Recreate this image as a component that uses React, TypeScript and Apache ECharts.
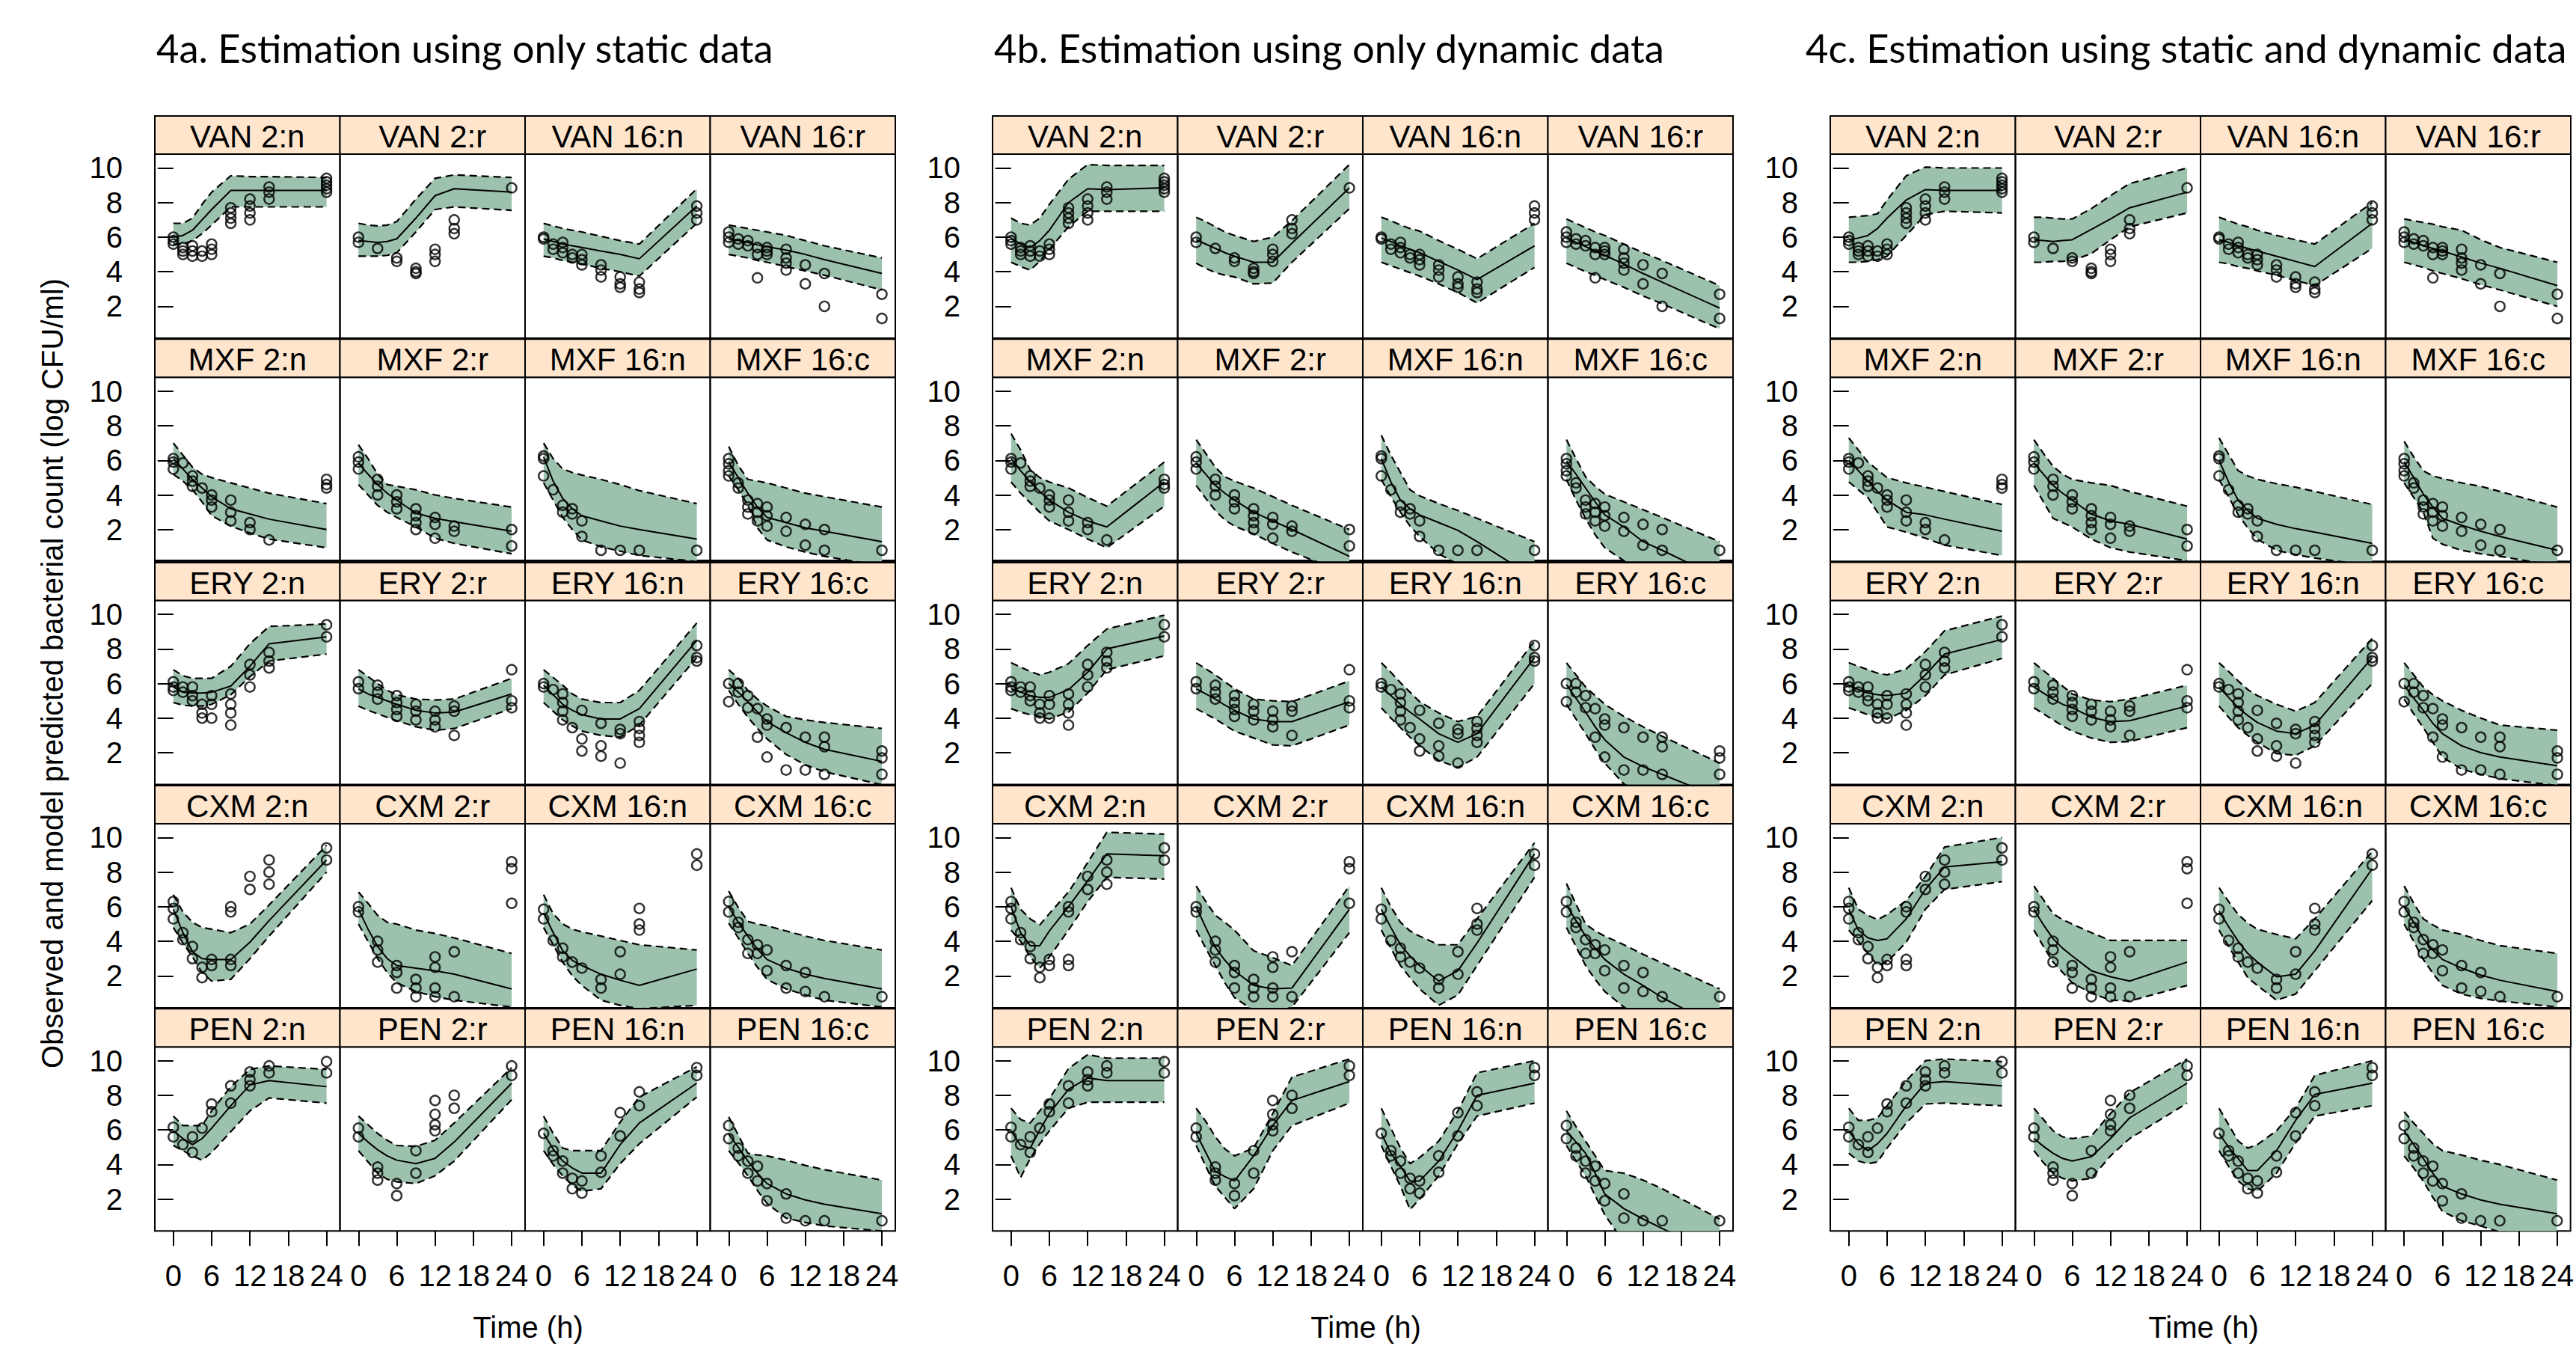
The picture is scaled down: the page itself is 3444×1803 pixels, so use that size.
import React, { useEffect, useRef } from "react";
import * as echarts from "echarts";

// ---------------- data ----------------
const TIMES = [0, 1.5, 3, 4.5, 6, 9, 12, 15, 24];
const X_TICKS = [0, 6, 12, 18, 24];
const Y_TICKS = [2, 4, 6, 8, 10];
const TITLES = [
  "4a. Estimation using only static data",
  "4b. Estimation using only dynamic data",
  "4c. Estimation using static and dynamic data",
];
const PANEL_LABELS = [
  "VAN 2:n", "VAN 2:r", "VAN 16:n", "VAN 16:r",
  "MXF 2:n", "MXF 2:r", "MXF 16:n", "MXF 16:c",
  "ERY 2:n", "ERY 2:r", "ERY 16:n", "ERY 16:c",
  "CXM 2:n", "CXM 2:r", "CXM 16:n", "CXM 16:c",
  "PEN 2:n", "PEN 2:r", "PEN 16:n", "PEN 16:c",
];
const X_TITLE = "Time (h)";
const Y_TITLE = "Observed and model predicted bacterial count (log CFU/ml)";

// observed counts: per panel, per time in TIMES, list of replicate values
const OBS_VAN = [
  [[6.0, 5.8, 5.6], [5.4, 5.2, 5.0], [5.5, 5.2, 4.9], [5.2, 4.9], [5.6, 5.3, 5.0], [7.7, 7.4, 7.1, 6.8], [8.2, 7.8, 7.4, 7.0], [8.9, 8.6, 8.2], [9.4, 9.2, 9.0, 8.8, 8.6]],
  [[6.0, 5.7], [], [5.35], [], [4.8, 4.6], [4.2, 4.0, 3.9], [5.3, 5.0, 4.6], [7.0, 6.5, 6.2], [8.85]],
  [[6.0, 5.9], [5.6, 5.3], [5.7, 5.4, 5.1], [5.0, 4.8], [5.0, 4.7, 4.4], [4.4, 4.1, 3.7], [3.7, 3.3, 3.1], [3.4, 3.0, 2.8], [7.8, 7.4, 7.0]],
  [[6.3, 6.0, 5.7], [5.9, 5.6], [5.8, 5.5], [5.4, 5.0, 3.65], [5.4, 5.2, 5.0], [5.3, 4.8, 4.5, 4.1], [4.4, 3.3], [3.9, 2.0], [2.7, 1.3]],
];
const OBS_MXF = [
  [[6.1, 5.9, 5.5], [5.85], [5.1, 4.8, 4.5], [4.4], [4.0, 3.7, 3.3], [3.7, 3.0, 2.5], [2.4, 2.0], [1.4], [4.9, 4.6, 4.4]],
  [[6.2, 5.9, 5.5], [], [4.9, 4.5, 4.0], [], [4.0, 3.6, 3.2], [3.2, 2.8, 2.4, 2.0], [2.7, 2.3, 1.5], [2.2, 1.9], [2.0, 1.05]],
  [[6.25, 6.1, 5.1], [4.3], [3.4, 3.0], [3.2, 2.9], [2.5, 1.6], [0.8], [0.8], [0.8], [0.8]],
  [[6.1, 5.8, 5.4, 5.1], [4.7, 4.4], [3.7, 3.3, 2.9], [3.5, 3.0, 2.5], [3.3, 2.8, 2.2], [2.7, 1.9], [2.3, 1.1], [2.0, 0.8], [0.8]],
];
const OBS_ERY = [
  [[6.1, 5.8, 5.6], [5.8, 5.5], [5.8, 5.3, 5.0], [4.8, 4.3, 4.0], [5.3, 4.8, 4.0], [5.4, 4.8, 4.3, 3.6], [7.1, 6.5, 5.8], [7.8, 7.3, 6.9], [9.4, 8.7]],
  [[6.1, 5.7], [], [5.9, 5.5, 5.1], [], [5.3, 4.9, 4.5, 4.1], [4.8, 4.4, 3.9], [4.4, 3.9, 3.5], [4.7, 4.4, 3.0], [6.8, 5.0, 4.6]],
  [[6.0, 5.8], [5.65], [5.4, 4.9, 4.4, 3.9], [3.45], [4.45, 2.8, 2.1], [3.7, 2.4, 1.8], [3.35, 3.1, 1.4], [3.8, 3.4, 3.0, 2.6], [8.2, 7.5, 7.3]],
  [[6.0, 4.95], [6.0, 5.5], [5.3, 4.6], [4.55, 2.9], [3.95, 3.6, 1.75], [3.45, 1.0], [2.9, 1.0], [2.9, 2.35, 0.75], [2.1, 1.7, 0.75]],
];
const OBS_CXM = [
  [[6.3, 5.9, 5.3], [4.5, 4.1], [3.7, 3.0], [2.5, 1.9], [2.95, 2.6], [6.0, 5.7, 2.95, 2.6], [7.75, 7.0], [8.7, 8.0, 7.3], [9.4, 8.7]],
  [[6.0, 5.7], [], [4.0, 3.5, 2.8], [], [2.6, 2.2, 1.3], [1.8, 1.3, 0.8], [3.1, 2.5, 1.3, 0.8], [3.4, 0.8], [8.6, 8.2, 6.2]],
  [[5.85, 5.3], [4.05], [3.6, 3.1], [2.8], [2.45], [1.8, 1.3], [3.4, 2.1], [5.9, 5.0, 4.65], [9.05, 8.4]],
  [[6.3, 5.7], [5.1, 4.8], [4.1, 3.3], [3.8, 3.3], [3.5, 2.3], [2.6, 1.3], [2.2, 1.1], [0.8], [0.8]],
];
const OBS_PEN = [
  [[6.15, 5.6], [5.15], [5.6, 4.7], [6.1], [7.5, 7.05], [8.55, 7.55], [9.35, 8.9, 8.55], [9.7, 9.3], [9.95, 9.3]],
  [[6.1, 5.6], [], [3.85, 3.5, 3.1], [], [2.9, 2.2], [4.8, 3.5], [7.7, 6.9, 6.3, 5.95], [8.0, 7.25], [9.7, 9.15]],
  [[5.8], [4.8, 4.5], [4.2, 3.5], [3.2, 2.6], [3.05, 2.35], [4.5, 3.55], [7.0, 5.65], [8.2, 7.4], [9.6, 9.15]],
  [[6.25, 5.5], [4.95, 4.5], [4.2, 3.5], [3.9, 3.05], [2.9, 1.9], [2.3, 0.9], [0.75], [0.75], [0.75]],
];

// model prediction bands (one row per panel, values at TIMES)
const UPPER_A = [
  [6.8, 6.8, 7.1, 7.9, 8.6, 9.55, 9.5, 9.5, 9.45],
  [6.8, 6.7, 6.65, 6.7, 6.9, 8.2, 9.4, 9.6, 9.45],
  [6.8, 6.65, 6.5, 6.4, 6.3, 6.05, 5.8, 5.6, 8.8],
  [6.7, 6.6, 6.5, 6.4, 6.3, 6.1, 5.8, 5.5, 4.8],
  [7.0, 6.3, 5.6, 5.2, 5.0, 4.7, 4.4, 4.1, 3.5],
  [6.9, 6.1, 5.2, 4.6, 4.5, 4.3, 4.0, 3.8, 3.3],
  [7.0, 6.1, 5.5, 5.3, 5.15, 4.9, 4.6, 4.25, 3.5],
  [6.8, 5.7, 4.9, 4.8, 4.7, 4.4, 4.1, 3.9, 3.3],
  [6.8, 6.45, 6.3, 6.3, 6.3, 7.0, 8.3, 9.3, 9.45],
  [6.8, 6.4, 6.0, 5.6, 5.35, 5.1, 5.05, 5.1, 6.3],
  [6.8, 6.35, 5.9, 5.4, 5.1, 4.9, 4.9, 5.6, 9.5],
  [6.8, 6.3, 5.6, 5.1, 4.7, 4.1, 3.9, 3.75, 3.4],
  [6.7, 5.7, 5.1, 4.8, 4.7, 4.5, 5.0, 6.1, 9.55],
  [6.85, 6.2, 5.5, 5.1, 5.0, 4.65, 4.45, 4.2, 3.3],
  [6.7, 5.6, 5.0, 4.7, 4.55, 4.3, 4.05, 3.8, 3.5],
  [6.9, 5.95, 5.15, 5.0, 4.9, 4.6, 4.3, 4.05, 3.5],
  [6.8, 6.25, 6.25, 6.25, 7.1, 8.5, 9.5, 9.7, 9.5],
  [6.8, 6.3, 5.8, 5.4, 5.1, 5.05, 5.4, 6.4, 9.6],
  [6.8, 5.8, 4.95, 4.8, 4.8, 4.8, 6.45, 7.9, 9.65],
  [6.75, 5.7, 4.65, 4.55, 4.5, 4.25, 3.95, 3.7, 3.1],
];
const MEDIAN_A = [
  [6.0, 6.1, 6.4, 7.0, 7.6, 8.7, 8.7, 8.7, 8.7],
  [5.8, 5.75, 5.7, 5.75, 5.9, 7.1, 8.4, 8.8, 8.6],
  [5.9, 5.75, 5.6, 5.5, 5.4, 5.2, 5.0, 4.75, 7.8],
  [5.9, 5.8, 5.7, 5.55, 5.45, 5.25, 5.0, 4.7, 3.9],
  [6.1, 5.5, 4.9, 4.4, 3.9, 3.2, 2.9, 2.6, 2.0],
  [5.85, 5.2, 4.6, 4.1, 3.7, 2.95, 2.65, 2.45, 1.9],
  [6.2, 4.8, 3.8, 3.2, 2.8, 2.5, 2.2, 2.0, 1.45],
  [5.9, 5.0, 4.1, 3.3, 2.7, 2.4, 2.1, 1.9, 1.3],
  [5.8, 5.5, 5.45, 5.45, 5.5, 5.85, 7.0, 8.3, 8.7],
  [5.7, 5.4, 5.2, 5.0, 4.8, 4.45, 4.3, 4.35, 5.4],
  [5.9, 5.35, 4.8, 4.45, 4.2, 3.95, 3.95, 4.55, 8.5],
  [6.0, 5.5, 4.95, 4.35, 3.8, 3.15, 2.6, 2.2, 1.5],
  [5.85, 4.5, 3.4, 3.0, 2.95, 2.95, 3.95, 5.2, 8.7],
  [5.85, 4.7, 3.7, 3.0, 2.6, 2.45, 2.3, 2.1, 1.25],
  [5.65, 4.5, 3.45, 2.9, 2.6, 2.1, 1.75, 1.45, 2.4],
  [6.0, 5.1, 4.3, 3.55, 2.95, 2.45, 2.1, 1.85, 1.25],
  [5.95, 5.5, 5.15, 5.5, 6.1, 7.4, 8.6, 8.85, 8.5],
  [5.8, 5.3, 4.85, 4.5, 4.25, 4.05, 4.35, 5.3, 8.7],
  [5.8, 4.9, 4.2, 3.8, 3.5, 3.5, 5.15, 6.4, 8.7],
  [5.75, 5.0, 4.2, 3.5, 2.9, 2.3, 1.95, 1.7, 1.15],
];
const LOWER_A = [
  [5.6, 5.6, 5.8, 6.2, 6.7, 7.75, 7.75, 7.75, 7.75],
  [4.9, 4.9, 4.9, 4.95, 5.1, 6.3, 7.6, 7.75, 7.55],
  [4.9, 4.8, 4.65, 4.55, 4.45, 4.2, 4.0, 3.75, 6.8],
  [5.0, 4.9, 4.8, 4.65, 4.55, 4.3, 4.05, 3.8, 2.95],
  [5.2, 4.8, 4.3, 3.6, 2.8, 2.2, 1.8, 1.45, 0.95],
  [4.6, 4.0, 3.4, 3.0, 2.7, 2.15, 1.5, 1.2, 0.6],
  [4.7, 3.7, 2.7, 2.0, 1.4, 1.0, 0.75, 0.5, 0.15],
  [5.1, 4.3, 3.4, 2.1, 1.4, 1.0, 0.7, 0.45, -0.1],
  [4.9, 4.75, 4.7, 4.7, 4.8, 5.35, 6.4, 7.3, 7.7],
  [4.7, 4.45, 4.25, 4.05, 3.85, 3.5, 3.3, 3.4, 4.55],
  [4.9, 4.4, 3.9, 3.55, 3.25, 3.0, 2.9, 3.6, 7.5],
  [5.6, 4.8, 4.05, 3.4, 2.8, 1.9, 1.3, 0.9, 0.15],
  [4.8, 3.9, 3.1, 2.2, 1.7, 1.8, 3.0, 4.3, 8.0],
  [5.0, 4.0, 3.0, 2.2, 1.6, 1.1, 0.8, 0.6, 0.2],
  [4.8, 3.8, 2.8, 2.0, 1.45, 0.6, 0.3, 0.1, 0.3],
  [5.05, 4.2, 3.3, 2.5, 1.8, 1.25, 0.9, 0.6, 0.2],
  [5.1, 4.8, 4.5, 4.25, 4.7, 5.9, 7.1, 7.85, 7.55],
  [4.8, 4.15, 3.5, 3.15, 3.0, 2.9, 3.35, 4.2, 7.75],
  [4.8, 4.0, 3.35, 2.8, 2.45, 2.6, 4.05, 5.2, 7.9],
  [4.8, 4.1, 3.35, 2.5, 1.75, 0.9, 0.65, 0.45, 0.15],
];

const UPPER_B = [
  [7.1, 6.8, 6.7, 7.1, 7.9, 9.35, 10.2, 10.15, 10.15],
  [7.15, 6.9, 6.6, 6.3, 6.1, 5.75, 6.0, 6.95, 10.2],
  [7.15, 6.95, 6.7, 6.5, 6.35, 5.8, 5.3, 4.75, 6.8],
  [7.05, 6.8, 6.55, 6.3, 6.1, 5.6, 5.1, 4.65, 3.2],
  [7.55, 6.6, 5.45, 5.0, 4.75, 4.4, 3.85, 3.35, 5.9],
  [7.2, 6.4, 5.6, 5.05, 4.8, 4.4, 3.9, 3.4, 2.0],
  [7.45, 6.3, 5.3, 4.3, 3.95, 3.5, 3.1, 2.65, 1.3],
  [7.2, 6.1, 5.05, 4.5, 4.05, 3.6, 3.15, 2.7, 1.3],
  [7.2, 6.95, 6.7, 6.5, 6.65, 7.15, 8.2, 9.15, 9.95],
  [7.2, 6.85, 6.5, 6.1, 5.7, 5.1, 5.0, 4.95, 6.15],
  [7.2, 6.65, 6.05, 5.5, 4.95, 4.3, 3.8, 4.1, 8.45],
  [7.2, 6.5, 5.8, 5.3, 4.8, 4.1, 3.5, 2.95, 1.4],
  [7.1, 5.85, 5.3, 4.95, 5.6, 6.85, 8.55, 10.3, 10.2],
  [7.2, 6.3, 5.5, 5.1, 4.65, 3.45, 3.05, 2.6, 7.2],
  [7.1, 6.0, 5.1, 4.6, 4.3, 3.8, 3.8, 5.3, 9.7],
  [7.35, 6.15, 5.0, 4.6, 4.3, 3.8, 3.25, 2.75, 1.25],
  [7.25, 6.6, 6.4, 7.1, 7.8, 9.55, 10.35, 10.15, 10.15],
  [7.25, 6.5, 5.6, 4.9, 4.5, 4.95, 6.95, 9.05, 10.1],
  [7.25, 6.1, 4.95, 4.05, 4.4, 5.35, 7.1, 9.3, 10.0],
  [7.1, 6.2, 5.35, 4.5, 3.65, 3.5, 3.1, 2.6, 0.85],
];
const MEDIAN_B = [
  [5.95, 5.6, 5.4, 5.8, 6.4, 8.0, 8.8, 8.75, 8.85],
  [5.85, 5.6, 5.35, 5.1, 4.9, 4.55, 4.55, 5.65, 8.85],
  [5.95, 5.75, 5.5, 5.3, 5.1, 4.6, 4.1, 3.55, 5.5],
  [5.95, 5.7, 5.45, 5.2, 4.95, 4.45, 3.9, 3.4, 1.9],
  [6.1, 5.4, 4.75, 4.2, 3.7, 3.0, 2.5, 2.15, 4.75],
  [5.85, 5.2, 4.55, 4.1, 3.7, 3.0, 2.5, 2.0, 0.45],
  [6.1, 4.75, 3.7, 3.2, 2.85, 2.4, 1.95, 1.3, -0.8],
  [5.95, 5.2, 4.4, 3.6, 2.85, 2.15, 1.3, 0.8, -0.8],
  [5.7, 5.5, 5.3, 5.2, 5.2, 5.65, 6.65, 8.0, 8.75],
  [5.7, 5.4, 5.1, 4.75, 4.45, 3.95, 3.8, 3.8, 4.95],
  [5.8, 5.3, 4.8, 4.35, 3.95, 3.1, 2.6, 3.1, 7.5],
  [5.95, 5.15, 4.35, 3.5, 2.75, 1.75, 1.2, 0.75, -0.6],
  [6.0, 4.5, 3.75, 3.75, 4.6, 6.0, 7.5, 9.05, 8.95],
  [6.0, 4.8, 3.65, 2.9, 2.3, 1.45, 1.25, 1.3, 5.85],
  [5.85, 4.8, 3.8, 3.15, 2.6, 1.7, 2.3, 3.9, 9.05],
  [6.1, 5.2, 4.3, 3.6, 2.95, 2.1, 1.45, 0.75, -1.0],
  [5.95, 5.1, 4.95, 6.0, 6.95, 8.35, 9.0, 8.85, 8.85],
  [5.8, 4.7, 3.6, 3.3, 3.05, 4.5, 6.25, 7.7, 8.8],
  [5.8, 4.65, 3.9, 3.05, 3.05, 4.2, 5.95, 8.0, 8.7],
  [5.95, 5.3, 4.65, 3.5, 2.3, 1.45, 0.85, 0.3, -1.3],
];
const LOWER_B = [
  [4.55, 4.3, 4.1, 4.6, 5.3, 6.6, 7.5, 7.5, 7.5],
  [4.5, 4.2, 3.95, 3.8, 3.7, 3.3, 3.35, 4.55, 7.65],
  [4.55, 4.35, 4.15, 3.95, 3.75, 3.3, 2.8, 2.2, 4.25],
  [4.5, 4.25, 4.0, 3.8, 3.55, 3.1, 2.6, 2.15, 0.7],
  [4.75, 4.1, 3.55, 3.0, 2.5, 2.0, 1.45, 0.95, 3.35],
  [4.55, 3.8, 3.1, 2.55, 2.2, 1.75, 1.2, 0.7, -0.6],
  [4.9, 3.9, 3.0, 2.2, 1.6, 0.6, 0.0, -0.5, -1.5],
  [4.9, 3.7, 2.65, 1.7, 0.95, 0.2, -0.5, -1.0, -2.5],
  [4.55, 4.35, 4.2, 4.1, 3.95, 4.35, 5.45, 6.8, 7.6],
  [4.55, 4.25, 3.95, 3.6, 3.25, 2.85, 2.45, 2.4, 3.6],
  [4.6, 4.0, 3.45, 2.9, 2.4, 1.55, 1.15, 1.75, 6.0],
  [4.8, 3.95, 3.1, 2.2, 1.4, 0.2, -0.5, -1.0, -2.5],
  [4.65, 4.0, 3.1, 2.45, 3.1, 4.65, 6.3, 7.7, 7.6],
  [4.65, 3.6, 2.6, 1.6, 0.75, 0.0, -0.2, 0.2, 4.5],
  [4.65, 3.6, 2.6, 1.9, 1.25, 0.3, 0.9, 2.6, 7.7],
  [4.8, 3.7, 2.6, 1.8, 1.1, 0.2, -0.5, -1.0, -2.5],
  [4.5, 3.25, 4.35, 5.2, 5.95, 7.25, 7.6, 7.6, 7.6],
  [5.1, 3.9, 2.75, 2.1, 1.45, 2.6, 4.8, 6.25, 7.55],
  [5.1, 3.9, 2.75, 1.4, 2.0, 3.35, 5.2, 6.8, 7.55],
  [5.1, 4.2, 3.35, 2.2, 1.1, -0.5, -1.0, -1.5, -3.0],
];

const UPPER_C = [
  [7.15, 7.2, 7.25, 7.35, 8.15, 9.55, 10.05, 10.0, 10.0],
  [7.15, 7.15, 7.1, 7.05, 7.05, 7.65, 8.4, 9.1, 10.0],
  [7.15, 6.95, 6.75, 6.6, 6.4, 6.1, 5.85, 5.6, 8.0],
  [7.05, 6.95, 6.85, 6.75, 6.6, 6.4, 5.85, 5.4, 4.55],
  [7.3, 6.6, 5.9, 5.45, 5.0, 4.7, 4.45, 4.2, 3.45],
  [7.2, 6.4, 5.65, 5.2, 4.9, 4.7, 4.55, 4.2, 3.35],
  [7.3, 6.35, 5.4, 5.1, 4.9, 4.65, 4.45, 4.2, 3.45],
  [7.1, 6.2, 5.4, 5.1, 4.95, 4.7, 4.5, 4.2, 3.3],
  [7.2, 7.0, 6.8, 6.6, 6.5, 6.85, 7.85, 9.05, 9.9],
  [7.2, 6.75, 6.3, 5.85, 5.4, 5.05, 4.95, 5.1, 5.9],
  [7.2, 6.7, 6.15, 5.65, 5.3, 4.8, 4.4, 4.9, 8.6],
  [7.2, 6.5, 5.8, 5.35, 5.0, 4.45, 4.0, 3.6, 3.3],
  [7.1, 5.85, 5.5, 5.25, 5.55, 6.35, 7.75, 9.45, 10.0],
  [7.2, 6.4, 5.6, 5.25, 5.0, 4.5, 4.05, 4.05, 4.05],
  [7.1, 6.3, 5.55, 5.05, 4.7, 4.4, 4.15, 5.3, 9.2],
  [7.2, 6.2, 5.3, 4.95, 4.65, 4.4, 4.05, 3.75, 3.3],
  [7.25, 6.55, 6.55, 6.7, 7.4, 8.85, 10.0, 10.1, 9.95],
  [7.25, 6.6, 5.95, 5.6, 5.5, 5.65, 6.95, 8.15, 10.1],
  [7.25, 6.3, 5.35, 4.95, 5.15, 5.95, 7.25, 9.15, 10.0],
  [7.05, 6.4, 5.8, 5.2, 4.8, 4.55, 4.25, 4.0, 3.1],
];
const MEDIAN_C = [
  [5.85, 5.95, 6.1, 6.5, 7.1, 8.15, 8.75, 8.7, 8.7],
  [5.85, 5.8, 5.75, 5.8, 5.85, 6.45, 7.05, 7.7, 8.6],
  [5.85, 5.7, 5.5, 5.35, 5.2, 4.9, 4.6, 4.3, 6.8],
  [5.85, 5.7, 5.5, 5.35, 5.2, 4.85, 4.5, 4.2, 3.2],
  [6.0, 5.4, 4.8, 4.2, 3.7, 3.0, 2.85, 2.6, 1.9],
  [5.85, 5.2, 4.55, 4.1, 3.7, 2.9, 2.5, 2.3, 1.45],
  [6.0, 4.75, 3.7, 3.1, 2.65, 2.3, 2.05, 1.85, 1.2],
  [5.9, 5.0, 4.05, 3.3, 2.65, 2.25, 1.9, 1.6, 0.8],
  [5.9, 5.65, 5.45, 5.35, 5.3, 5.45, 6.5, 7.7, 8.55],
  [5.8, 5.45, 5.1, 4.8, 4.6, 4.05, 3.8, 3.85, 4.7],
  [5.8, 5.2, 4.6, 4.15, 3.75, 3.25, 3.1, 3.6, 7.5],
  [5.9, 5.15, 4.45, 3.7, 3.1, 2.4, 2.0, 1.75, 1.25],
  [5.85, 4.65, 4.2, 4.05, 4.15, 5.3, 7.0, 8.3, 8.6],
  [5.85, 4.95, 4.15, 3.6, 3.15, 2.3, 1.95, 1.7, 2.8],
  [5.75, 4.85, 4.0, 3.3, 2.8, 1.95, 2.1, 3.45, 8.2],
  [6.0, 5.1, 4.15, 3.5, 2.95, 2.45, 2.05, 1.75, 1.1],
  [5.95, 5.2, 4.8, 5.2, 5.8, 7.4, 8.7, 8.8, 8.55],
  [5.5, 5.05, 4.65, 4.35, 4.2, 4.45, 5.5, 6.7, 8.7],
  [5.8, 5.0, 4.35, 3.65, 3.65, 4.8, 6.55, 8.05, 8.7],
  [5.95, 5.15, 4.35, 3.5, 2.75, 2.3, 1.95, 1.7, 1.15],
];
const LOWER_C = [
  [4.55, 4.55, 4.6, 4.7, 4.9, 6.1, 7.3, 7.5, 7.4],
  [4.55, 4.55, 4.6, 4.6, 4.65, 5.05, 5.85, 6.6, 7.4],
  [4.55, 4.45, 4.3, 4.2, 4.05, 3.8, 3.5, 3.2, 5.35],
  [4.55, 4.4, 4.25, 4.05, 3.9, 3.6, 3.25, 2.95, 2.0],
  [4.75, 4.3, 3.85, 3.0, 2.15, 1.85, 1.5, 1.1, 0.5],
  [4.55, 3.6, 2.65, 2.4, 2.15, 1.45, 0.95, 0.7, 0.2],
  [4.9, 3.9, 2.85, 2.1, 1.45, 0.8, 0.55, 0.35, -0.1],
  [4.7, 3.85, 3.0, 1.5, 1.15, 0.8, 0.6, 0.45, -0.1],
  [4.6, 4.4, 4.2, 4.05, 3.95, 4.45, 5.3, 6.5, 7.45],
  [4.6, 4.25, 3.9, 3.55, 3.25, 2.85, 2.6, 2.65, 3.45],
  [4.7, 4.05, 3.45, 3.0, 2.6, 1.95, 1.85, 2.4, 6.0],
  [5.1, 4.25, 3.45, 2.6, 1.75, 1.05, 0.75, 0.5, 0.1],
  [4.65, 4.0, 3.3, 2.6, 2.8, 3.95, 5.85, 7.0, 7.45],
  [4.65, 3.7, 2.8, 2.2, 1.6, 1.0, 0.6, 0.55, 1.45],
  [4.65, 3.7, 2.8, 1.9, 1.45, 0.6, 0.95, 2.3, 6.35],
  [5.0, 4.0, 2.95, 2.15, 1.45, 0.95, 0.7, 0.55, 0.2],
  [4.65, 4.2, 4.05, 4.15, 4.95, 6.4, 7.5, 7.55, 7.4],
  [4.8, 4.1, 3.5, 3.2, 3.05, 3.2, 4.5, 5.5, 7.55],
  [4.8, 3.9, 3.05, 2.6, 2.45, 3.5, 5.25, 6.8, 7.4],
  [4.5, 3.8, 3.05, 2.1, 1.3, 0.75, 0.45, 0.1, -0.5],
];

// ---------------- layout / style ----------------
const W = 3444;
const H = 1803;
const GROUP_LEFT = [207, 1327, 2447];
const TITLE_X = [209, 1329, 2414];
const COL_W = 247.5;
const ROW_TOP0 = 155;
const ROW_PITCH = 298.3;
const STRIP_H = 51;
const PLOT_H = 246;
const X_MIN = -2.9;
const X_MAX = 26.1;
const Y_MIN = 0.16;
const Y_MAX = 10.8;
const BAND_FILL = "#9cc2ad";
const STRIP_FILL = "#ffe5cc";
const FONT = "'Liberation Sans', Arial, Helvetica, sans-serif";
const TITLE_FONT = "Lato, 'Open Sans', sans-serif";

const OBSERVED = [...OBS_VAN, ...OBS_MXF, ...OBS_ERY, ...OBS_CXM, ...OBS_PEN];
const BANDS = [
  { lo: LOWER_A, md: MEDIAN_A, hi: UPPER_A },
  { lo: LOWER_B, md: MEDIAN_B, hi: UPPER_B },
  { lo: LOWER_C, md: MEDIAN_C, hi: UPPER_C },
];

function buildOption() {
  const grid: any[] = [];
  const xAxis: any[] = [];
  const yAxis: any[] = [];
  const series: any[] = [];
  const graphic: any[] = [];

  for (let g = 0; g < 3; g++) {
    for (let p = 0; p < 20; p++) {
      const r = Math.floor(p / 4);
      const c = p % 4;
      const k = g * 20 + p;
      const left = GROUP_LEFT[g] + c * COL_W;
      const stripTop = ROW_TOP0 + r * ROW_PITCH;
      const top = stripTop + STRIP_H;
      grid.push({
        left, top, width: COL_W, height: PLOT_H,
        show: true, borderColor: "#000", borderWidth: 2, backgroundColor: "transparent",
      });
      const bottomRow = r === 4;
      const leftCol = c === 0;
      xAxis.push({
        gridIndex: k, type: "value", min: X_MIN, max: X_MAX,
        axisLine: { show: false },
        splitLine: { show: false },
        axisTick: { show: bottomRow, length: 20, lineStyle: { color: "#000", width: 2 }, customValues: X_TICKS },
        axisLabel: { show: bottomRow, customValues: X_TICKS, margin: 40, fontSize: 40, color: "#000", fontFamily: FONT },
      });
      yAxis.push({
        gridIndex: k, type: "value", min: Y_MIN, max: Y_MAX,
        axisLine: { show: false },
        splitLine: { show: false },
        axisTick: { show: leftCol, length: 21, lineStyle: { color: "#000", width: 2 }, customValues: Y_TICKS },
        axisLabel: { show: leftCol, customValues: Y_TICKS, margin: 43, fontSize: 40, color: "#000", fontFamily: FONT },
      });

      const lo = BANDS[g].lo[p];
      const md = BANDS[g].md[p];
      const hi = BANDS[g].hi[p];
      series.push({
        type: "custom", xAxisIndex: k, yAxisIndex: k, clip: true, silent: true,
        data: [[TIMES[0], lo[0]]],
        renderItem: (_params: any, api: any) => {
          const upperPts = TIMES.map((t, i) => api.coord([t, hi[i]]));
          const lowerPts = TIMES.map((t, i) => api.coord([t, lo[i]])).reverse();
          return {
            type: "polygon",
            shape: { points: upperPts.concat(lowerPts) },
            style: { fill: BAND_FILL, stroke: null },
          };
        },
      });
      const dashed = { color: "#000", width: 2.2, type: [10, 6] };
      series.push({
        type: "line", xAxisIndex: k, yAxisIndex: k, silent: true, symbol: "none",
        data: TIMES.map((t, i) => [t, hi[i]]), lineStyle: dashed,
      });
      series.push({
        type: "line", xAxisIndex: k, yAxisIndex: k, silent: true, symbol: "none",
        data: TIMES.map((t, i) => [t, lo[i]]), lineStyle: dashed,
      });
      series.push({
        type: "line", xAxisIndex: k, yAxisIndex: k, silent: true, symbol: "none",
        data: TIMES.map((t, i) => [t, md[i]]), lineStyle: { color: "#000", width: 2 },
      });
      const pts: number[][] = [];
      OBSERVED[p].forEach((vals, i) => vals.forEach((v) => pts.push([TIMES[i], v])));
      series.push({
        type: "scatter", xAxisIndex: k, yAxisIndex: k, silent: true,
        symbol: "circle", symbolSize: 13,
        itemStyle: { color: "rgba(0,0,0,0)", borderColor: "#000", borderWidth: 2.4 },
        data: pts,
      });

      // strip
      graphic.push({
        type: "rect", silent: true,
        shape: { x: left, y: stripTop, width: COL_W, height: STRIP_H },
        style: { fill: STRIP_FILL, stroke: "#000", lineWidth: 2 },
      });
      graphic.push({
        type: "text", silent: true, x: left + COL_W / 2, y: stripTop + STRIP_H / 2 + 2,
        style: {
          text: PANEL_LABELS[p], fontSize: 42, fontFamily: FONT, fill: "#000",
          align: "center", verticalAlign: "middle", textAlign: "center", textVerticalAlign: "middle",
        },
      });
    }
    // title
    graphic.push({
      type: "text", silent: true, x: TITLE_X[g], y: 63,
      style: {
        text: TITLES[g], fontSize: 52.5, fontFamily: TITLE_FONT, fill: "#000",
        align: "left", verticalAlign: "middle", textAlign: "left", textVerticalAlign: "middle",
      },
    });
    // x-axis title
    graphic.push({
      type: "text", silent: true, x: GROUP_LEFT[g] + 2 * COL_W + 4, y: 1774,
      style: {
        text: X_TITLE, fontSize: 40, fontFamily: FONT, fill: "#000",
        align: "center", verticalAlign: "middle", textAlign: "center", textVerticalAlign: "middle",
      },
    });
    // heavier separator between 2nd and 3rd rows (panels a and b)
    if (g < 2) {
      const yy = ROW_TOP0 + 2 * ROW_PITCH - 1;
      graphic.push({
        type: "line", silent: true,
        shape: { x1: GROUP_LEFT[g], y1: yy, x2: GROUP_LEFT[g] + 4 * COL_W, y2: yy },
        style: { stroke: "#000", lineWidth: 5 },
      });
    }
  }
  graphic.push({
    type: "text", silent: true, x: 70, y: 900, rotation: Math.PI / 2,
    style: {
      text: Y_TITLE, fontSize: 40, fontFamily: FONT, fill: "#000",
      align: "center", verticalAlign: "middle", textAlign: "center", textVerticalAlign: "middle",
    },
  });

  return {
    animation: false,
    backgroundColor: "#ffffff",
    grid, xAxis, yAxis, series, graphic,
  };
}

export default function App() {
  const ref = useRef<HTMLDivElement>(null);
  useEffect(() => {
    if (!ref.current) return;
    const chart = echarts.init(ref.current, undefined, { renderer: "svg", width: W, height: H });
    chart.setOption(buildOption() as any);
    return () => chart.dispose();
  }, []);
  return (
    <div
      ref={ref}
      style={{ position: "absolute", left: 0, top: 0, width: W, height: H, background: "#fff" }}
    />
  );
}
